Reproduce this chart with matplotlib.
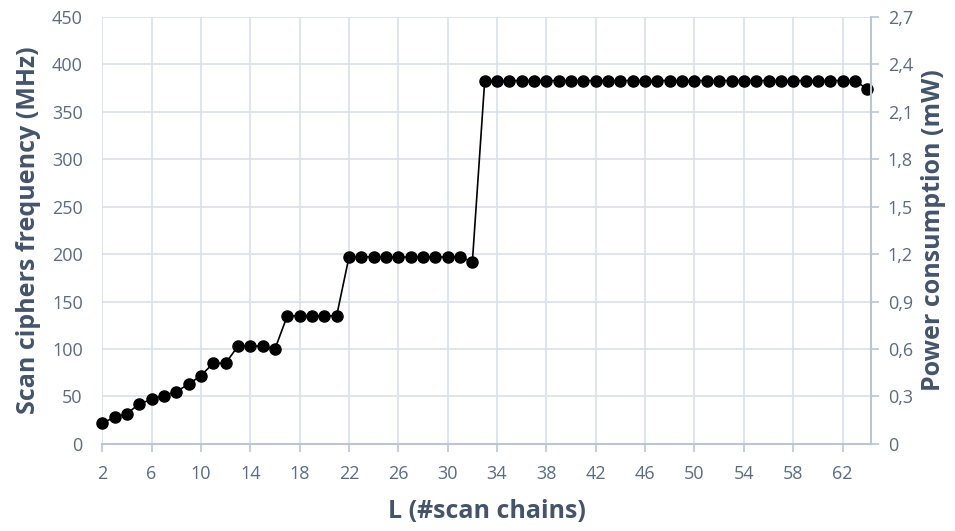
import matplotlib
matplotlib.use("Agg")
import matplotlib.pyplot as plt
from matplotlib.ticker import FuncFormatter

# scan chains L (2..64)
L = list(range(2, 65))
# scan ciphers frequency (MHz)
freq = [22, 28, 32, 42, 47, 51, 55, 63, 72, 85, 85, 103, 103, 103, 100,
        135, 135, 135, 135, 135,
        197, 197, 197, 197, 197, 197, 197, 197, 197, 197, 192,
        383, 383, 383, 383, 383, 383, 383, 383, 383, 383,
        383, 383, 383, 383, 383, 383, 383, 383, 383, 383,
        383, 383, 383, 383, 383, 383, 383, 383, 383, 383, 383,
        374]
xticks = list(range(2, 63, 4))
yticks_left = [0, 50, 100, 150, 200, 250, 300, 350, 400, 450]
yticks_right = [0, 0.3, 0.6, 0.9, 1.2, 1.5, 1.8, 2.1, 2.4, 2.7]

plt.rcParams['font.family'] = ['Open Sans', 'DejaVu Sans']
title_col = '#44546A'
tick_col = '#5B6B82'
grid_col = '#D9DFEA'
axis_col = '#BCC5D4'

fig = plt.figure(figsize=(9.55, 5.31), dpi=100)
ax = fig.add_axes([0.107, 0.164, 0.805, 0.804])

ax.plot(L, freq, color='black', lw=1.2, marker='o', ms=8, zorder=3, clip_on=False)

ax.set_xlim(2, 64.3)
ax.set_ylim(0, 450)
ax.set_xticks(xticks)
ax.set_yticks(yticks_left)
ax.grid(True, color=grid_col, lw=1.2)
ax.set_axisbelow(True)
for s in ['top', 'left', 'right']:
    ax.spines[s].set_visible(False)
ax.spines['bottom'].set_color(axis_col)
ax.spines['bottom'].set_linewidth(1.5)
ax.tick_params(axis='x', colors=tick_col, labelsize=13, length=6, width=1.2,
               color=axis_col, pad=9)
ax.tick_params(axis='y', colors=tick_col, labelsize=13, length=0, pad=14)
ax.set_xlabel('L (#scan chains)', fontsize=18, fontweight='bold', color=title_col, labelpad=12)
ax.set_ylabel('Scan ciphers frequency (MHz)', fontsize=18, fontweight='bold', color=title_col, labelpad=8)

ax2 = ax.twinx()
ax2.set_ylim(0, 2.7)
ax2.set_yticks(yticks_right)
ax2.yaxis.set_major_formatter(FuncFormatter(lambda v, p: ('%g' % round(v, 1)).replace('.', ',')))
for s in ['top', 'left', 'bottom']:
    ax2.spines[s].set_visible(False)
ax2.spines['right'].set_color(axis_col)
ax2.spines['right'].set_linewidth(1.5)
ax2.tick_params(axis='y', colors=tick_col, labelsize=13, length=6, width=1.2,
                color=axis_col, pad=6)
ax2.set_ylabel('Power consumption (mW)', fontsize=18, fontweight='bold', color=title_col, labelpad=6)

fig.savefig('out.png', dpi=100)
